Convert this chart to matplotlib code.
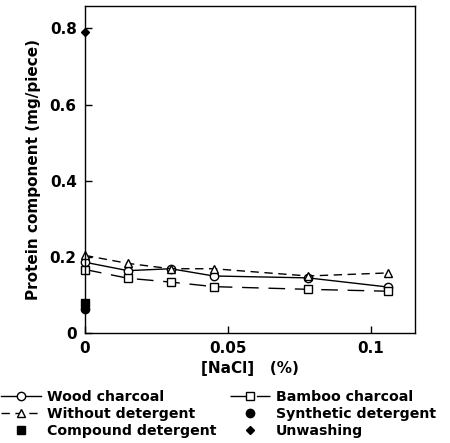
import matplotlib
matplotlib.use("Agg")
import matplotlib.pyplot as plt

nacl = [0, 0.015, 0.030, 0.045, 0.078, 0.106]
wood_charcoal = [0.186, 0.164, 0.169, 0.150, 0.145, 0.121]
bamboo_charcoal = [0.167, 0.144, 0.134, 0.122, 0.115, 0.110]
without_detergent = [0.204, 0.183, 0.169, 0.169, 0.150, 0.158]
synthetic_x, synthetic_y = [0], [0.063]
compound_x, compound_y = [0], [0.080]
unwashing_x, unwashing_y = [0], [0.791]

xticks = [0, 0.05, 0.1]
xticklabels = ["0", "0.05", "0.1"]
yticks = [0, 0.2, 0.4, 0.6, 0.8]
yticklabels = ["0", "0.2", "0.4", "0.6", "0.8"]

plt.rcParams['font.family'] = ['DejaVu Sans']
plt.rcParams['font.weight'] = 'bold'

fig = plt.figure(figsize=(4.5, 4.43), dpi=100)
ax = fig.add_axes([0.189, 0.248, 0.733, 0.738])

mk = dict(color='black', linewidth=1.0, markersize=6, markerfacecolor='white',
          markeredgecolor='black', markeredgewidth=1.0, clip_on=False)
h1, = ax.plot(nacl, wood_charcoal, '-', marker='o', label='Wood charcoal', **mk)
h2, = ax.plot(nacl, without_detergent, marker='^', linestyle=(0, (6, 4)),
              label='Without detergent', **mk)
h4, = ax.plot(nacl, bamboo_charcoal, marker='s', linestyle=(0, (12, 7)),
              label='Bamboo charcoal', **mk)
h3, = ax.plot(compound_x, compound_y, 's', color='black', markersize=6,
              label='Compound detergent', clip_on=False)
h5, = ax.plot(synthetic_x, synthetic_y, 'o', color='black', markersize=6,
              label='Synthetic detergent', clip_on=False)
h6, = ax.plot(unwashing_x, unwashing_y, 'D', color='black', markersize=4.5,
              label='Unwashing', clip_on=False)

ax.set_xlim(0, 0.1154)
ax.set_ylim(0, 0.858)
ax.set_xticks(xticks)
ax.set_xticklabels(xticklabels)
ax.set_yticks(yticks)
ax.set_yticklabels(yticklabels)
ax.tick_params(direction='in', length=5, width=1, labelsize=11, pad=6)
for lab in ax.get_xticklabels() + ax.get_yticklabels():
    lab.set_fontweight('bold')
for s in ax.spines.values():
    s.set_linewidth(1.0)

ax.set_xlabel('[NaCl]   (%)', fontsize=11, fontweight='bold', labelpad=3)
ax.set_ylabel('Protein component (mg/piece)', fontsize=11, fontweight='bold', labelpad=6)

leg = fig.legend(handles=[h1, h2, h3, h4, h5, h6], ncol=2, loc='upper left',
                 bbox_to_anchor=(0.0, 0.122), frameon=False, fontsize=10.2,
                 handlelength=2.8, handletextpad=0.4, columnspacing=1.0,
                 labelspacing=0.2, borderpad=0.1, borderaxespad=0)
for t in leg.get_texts():
    t.set_fontweight('bold')

fig.savefig('out.png', dpi=100)
